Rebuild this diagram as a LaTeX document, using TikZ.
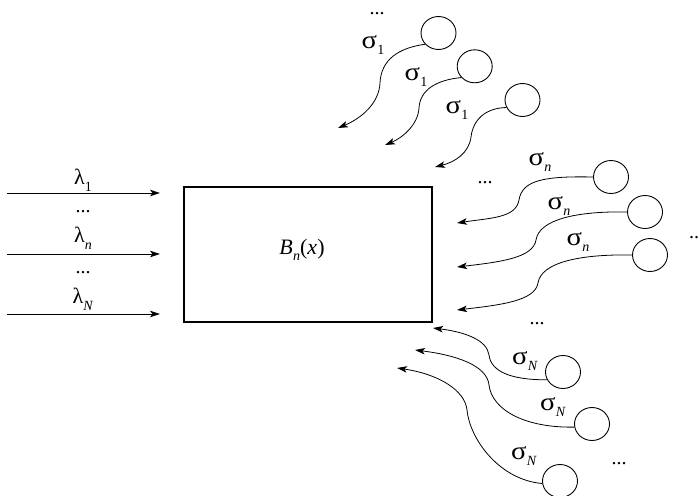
\documentclass[tikz,border=0pt]{standalone}
\usepackage{fontspec}
\usepackage{graphicx}
\setmainfont{Liberation Serif}
\usetikzlibrary{arrows.meta,shapes.geometric}
% symbol with a lowered, smaller subscript
\newcommand{\symsub}[2]{#1\kern0.3pt\raisebox{-0.3em}{\fontsize{14}{15}\selectfont #2}}
% a broad sigma
\newcommand{\wsig}{\scalebox{1.3}[1.15]{σ}}
\begin{document}
\begin{tikzpicture}[x=1pt,y=-1pt,
  ball/.style={draw, ellipse, minimum width=35pt, minimum height=33pt, inner sep=0pt, line width=0.9pt},
  flow/.style={-{Stealth[length=10pt,width=6.5pt,inset=2.5pt]}, line width=0.8pt},
  lab/.style={inner sep=0pt, font=\fontsize{22}{24}\selectfont},
  dots/.style={inner sep=0pt, font=\fontsize{20}{22}\selectfont}]
\useasboundingbox (0,0) rectangle (700,495);

% central block
\node[draw, line width=2pt, minimum width=248pt, minimum height=135pt, inner sep=0pt] (box) at (307.5,254) {};
\node[lab] (bn) at (302,250) {\symsub{\textit{B}}{\textit{n}}(\textit{x})};

% incoming flows on the left
\coordinate (l1s) at (7,193);   \coordinate (l1e) at (160,193);
\coordinate (l2s) at (7,254);   \coordinate (l2e) at (160,254);
\coordinate (l3s) at (7,314);   \coordinate (l3e) at (160,314);
\draw[flow] (l1s) -- (l1e);
\draw[flow] (l2s) -- (l2e);
\draw[flow] (l3s) -- (l3e);
\node[lab] (lam1) at (83,180) {\symsub{λ}{1}};
\node[dots] (ld1) at (83,212) {...};
\node[lab] (lamn) at (83,238) {\symsub{λ}{\textit{n}}};
\node[dots] (ld2) at (83,273) {...};
\node[lab] (lamN) at (83,299) {\symsub{λ}{\textit{N}}};

% upper group of sources
\node[ball] (t1) at (438.5,33) {};
\node[ball] (t2) at (474.7,66.3) {};
\node[ball] (t3) at (522.5,100) {};
\coordinate (te1) at (338,128);
\coordinate (te2) at (385,145);
\coordinate (te3) at (435,167);
\draw[flow] (t1.220) .. controls (398,48) and (381,60) .. (380,83)
                     .. controls (379,103) and (362,118) .. (te1);
\draw[flow] (t2.220) .. controls (436,80) and (420,90) .. (419,108)
                     .. controls (418,125) and (402,138) .. (te2);
\draw[flow] (t3.205) .. controls (485,108) and (473,120) .. (471,137)
                     .. controls (469,153) and (455,162) .. (te3);
\node[dots] (td) at (377,14) {...};
\node[lab] (ts1) at (373,45) {\symsub{\wsig}{1}};
\node[lab] (ts2) at (416,77) {\symsub{\wsig}{1}};
\node[lab] (ts3) at (457,110) {\symsub{\wsig}{1}};

% middle group of sources
\node[ball] (mA) at (611,177) {};
\node[ball] (mB) at (645,212) {};
\node[ball] (mC) at (650,255) {};
\coordinate (me1) at (457,223);
\coordinate (me2) at (457,267);
\coordinate (me3) at (457,310);
\draw[flow] (mA.180) .. controls (545,176) and (522,180) .. (519,200)
                     .. controls (516,218) and (490,218) .. (me1);
\draw[flow] (mB.180) .. controls (575,211) and (539,220) .. (536,240)
                     .. controls (533,258) and (500,262) .. (me2);
\draw[flow] (mC.180) .. controls (578,254) and (541,263) .. (538,283)
                     .. controls (535,301) and (500,305) .. (me3);
\node[dots] (md) at (485,183) {...};
\node[dots, anchor=west] (mr) at (689,238) {...};
\node[lab] (ms1) at (540,162) {\symsub{\wsig}{\textit{n}}};
\node[lab] (ms2) at (559,206) {\symsub{\wsig}{\textit{n}}};
\node[lab] (ms3) at (578,242) {\symsub{\wsig}{\textit{n}}};

% lower group of sources
\node[ball] (b1) at (563,372) {};
\node[ball] (b2) at (592,424) {};
\node[ball] (b3) at (560,481) {};
\coordinate (be1) at (433,328);
\coordinate (be2) at (415,350);
\coordinate (be3) at (397,368);
\draw[flow] (b1.206) .. controls (512,380) and (491,372) .. (489,355)
                     .. controls (487,340) and (465,332) .. (be1);
\draw[flow] (b2.190) .. controls (525,428) and (492,410) .. (489,385)
                     .. controls (487,365) and (455,355) .. (be2);
\draw[flow] (b3.188) .. controls (500,480) and (470,440) .. (467,410)
                     .. controls (465,390) and (438,374) .. (be3);
\node[dots] (bd) at (537,324) {...};
\node[dots] (bd2) at (619,464) {...};
\node[lab] (bs1) at (525,361) {\symsub{\wsig}{\textit{N}}};
\node[lab] (bs2) at (553,407) {\symsub{\wsig}{\textit{N}}};
\node[lab] (bs3) at (524,456) {\symsub{\wsig}{\textit{N}}};
\end{tikzpicture}
\end{document}
